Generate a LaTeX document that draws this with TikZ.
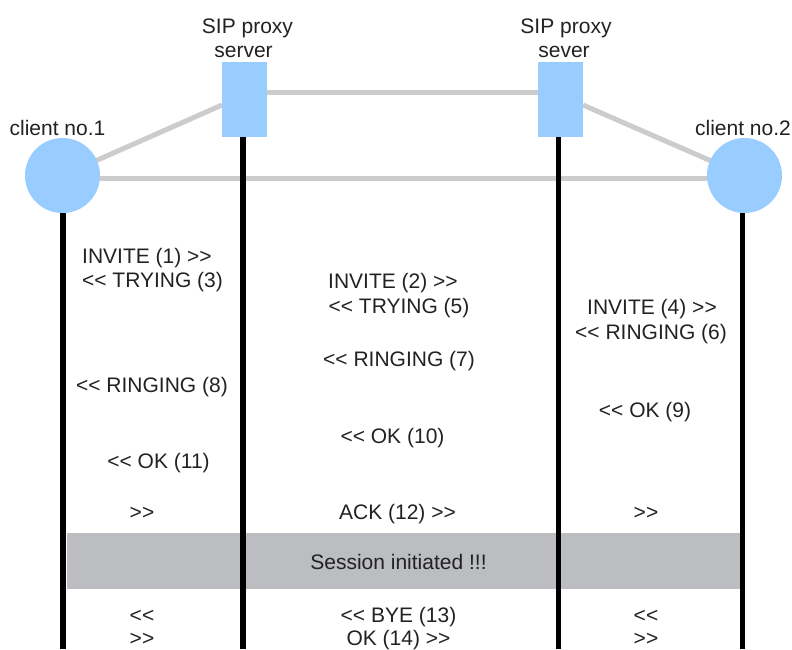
\documentclass[tikz,border=0pt]{standalone}
\usepackage{fontspec}
\setmainfont{Liberation Sans}[Ligatures=TeXOff]
\newfontfamily\labelfont{Liberation Sans}[Ligatures=TeXOff]
\begin{document}
\begin{tikzpicture}[x=1pt,y=-1pt,
  every node/.style={font=\labelfont\fontsize{21}{24}\selectfont, text=txt, inner sep=0pt},
  client/.style={circle, fill=nodeblue, minimum size=75pt},
  proxy/.style={rectangle, fill=nodeblue, minimum width=45pt, minimum height=75pt},
  link/.style={draw=linkgray, line width=5pt},
  life/.style={draw=black, line width=5.5pt},
  msg/.style={anchor=base},
]
\definecolor{nodeblue}{HTML}{99CCFF}
\definecolor{linkgray}{HTML}{CCCCCC}
\definecolor{bandgray}{HTML}{BCBDC0}
\definecolor{txt}{HTML}{222222}

\useasboundingbox[fill=white] (0,0) rectangle (792,649);

% network links between the four parties
\coordinate (l1) at (222,105);
\coordinate (r1) at (583,105);
\coordinate (c1e) at (100,178);
\coordinate (c2w) at (707,178);
\draw[link] (62.5,175.5) -- (l1);
\draw[link] (744.5,175.5) -- (r1);
\draw[link] (244.5,92) -- (561,92);
\draw[link] (c1e) -- (c2w);

% parties
\node[client] (c1) at (62.5,175.5) {};
\node[proxy]  (p1) at (244.5,99.5) {};
\node[proxy]  (p2) at (560.5,99.5) {};
\node[client] (c2) at (744.5,175.5) {};

\node[msg] (c1lab) at (57.5,135) {client no.1};
\node[msg] (c2lab) at (743,135) {client no.2};
\node[msg] (p1lab1) at (247.5,33) {SIP proxy};
\node[msg] (p1lab2) at (243.5,57) {server};
\node[msg] (p2lab1) at (566,33) {SIP proxy};
\node[msg] (p2lab2) at (564,57) {sever};

% session band
\fill[bandgray] (67,533) rectangle (740,589);
\node[msg] (sess) at (398.5,569) {Session initiated !!!};

% lifelines
\coordinate (b1) at (63,649);
\coordinate (b2) at (243,649);
\coordinate (b3) at (558.5,649);
\coordinate (b4) at (742.5,649);
\draw[life] (c1.south -| b1) -- (b1);
\draw[life] (p1.south -| b2) -- (b2);
\draw[life] (p2.south -| b3) -- (b3);
\draw[life] (c2.south -| b4) -- (b4);

% left column messages
\node[msg] (m1)  at (147,263)   {INVITE (1) >>};
\node[msg] (m3)  at (152.5,287) {<< TRYING (3)};
\node[msg] (m8)  at (152,392)   {<< RINGING (8)};
\node[msg] (m11) at (158.5,468) {<< OK (11)};
\node[msg] (a1)  at (142,519)   {>>};
\node[msg] (y1)  at (142,622)   {<<};
\node[msg] (k1)  at (142,645)   {>>};

% middle column messages
\node[msg] (m2)  at (393,288)   {INVITE (2) >>};
\node[msg] (m5)  at (399,313)   {<< TRYING (5)};
\node[msg] (m7)  at (399,366)   {<< RINGING (7)};
\node[msg] (m10) at (392.5,443) {<< OK (10)};
\node[msg] (m12) at (397.5,519) {ACK (12) >>};
\node[msg] (m13) at (398.5,622) {<< BYE (13)};
\node[msg] (m14) at (398.5,645) {OK (14) >>};

% right column messages
\node[msg] (m4)  at (652,314)   {INVITE (4) >>};
\node[msg] (m6)  at (651,339)   {<< RINGING (6)};
\node[msg] (m9)  at (645,417)   {<< OK (9)};
\node[msg] (a3)  at (646,519)   {>>};
\node[msg] (y3)  at (646,622)   {<<};
\node[msg] (k3)  at (646,645)   {>>};
\end{tikzpicture}
\end{document}
